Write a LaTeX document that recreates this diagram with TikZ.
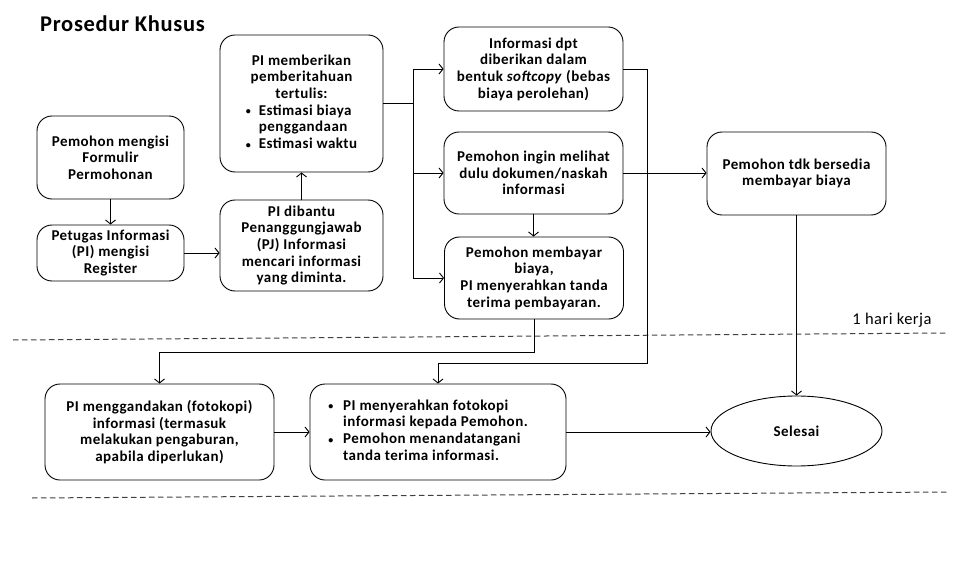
\documentclass[tikz,border=0pt]{standalone}
\usepackage{fontspec}
\setmainfont{Carlito}[LetterSpace=3]
\usetikzlibrary{arrows.meta,shapes.geometric}
\newcommand{\bul}{\raisebox{0.5bp}{\fontsize{10bp}{10bp}\selectfont\textbullet}}
\tikzset{
  box/.style={draw=black, line width=0.9bp, rounded corners=15bp, align=center, inner sep=2bp,
    font=\fontsize{15bp}{16.7bp}\selectfont\bfseries},
  endshape/.style={draw=black, line width=0.9bp, ellipse, inner sep=0bp,
    font=\fontsize{15bp}{16.7bp}\selectfont\bfseries},
  arr/.style={line width=0.9bp, -{Straight Barb[length=4bp,width=10bp,line width=0.9bp]}},
  ln/.style={line width=0.9bp},
  sep/.style={line width=1bp, draw=black!75, dash pattern=on 5.5bp off 3.5bp},
}
\begin{document}
\begin{tikzpicture}[x=1bp,y=-1bp]
\useasboundingbox (0,0) rectangle (963,564);
\node[font=\fontsize{22.5bp}{26bp}\selectfont\bfseries] (title) at (122.5,24) {Prosedur Khusus};

\node[box, minimum width=147bp, minimum height=83bp] (A) at (110.5,157.5) {Pemohon mengisi\\Formulir\\Permohonan};
\node[box, minimum width=147bp, minimum height=56bp] (B) at (110.5,253) {Petugas Informasi\\(PI) mengisi\\Register};
\node[box, minimum width=163bp, minimum height=91bp] (C) at (301.5,245.5) {PI dibantu\\Penanggungjawab\\(PJ) Informasi\\mencari informasi\\yang diminta.};
\node[box, minimum width=163bp, minimum height=137bp] (D) at (301.5,103.5) {\begin{tabular}{@{}l@{\hspace{8bp}}l@{}}
\multicolumn{2}{@{}c@{}}{PI memberikan}\\
\multicolumn{2}{@{}c@{}}{pemberitahuan}\\
\multicolumn{2}{@{}c@{}}{tertulis:}\\
\bul & Estimasi biaya\\
 & penggandaan\\
\bul & Estimasi waktu
\end{tabular}};
\node[box, minimum width=179bp, minimum height=84bp] (E) at (533.5,69) {Informasi dpt\\diberikan dalam\\bentuk \textit{softcopy} (bebas\\biaya perolehan)};
\node[box, minimum width=179bp, minimum height=82bp] (F) at (533.5,173) {Pemohon ingin melihat\\dulu dokumen/naskah\\informasi};
\node[box, minimum width=179bp, minimum height=82bp] (G) at (534,278) {Pemohon membayar\\biaya,\\PI menyerahkan tanda\\terima pembayaran.};
\node[box, minimum width=179bp, minimum height=83bp] (J) at (796.5,173.5) {Pemohon tdk bersedia\\membayar biaya};
\node[box, minimum width=229bp, minimum height=96bp] (H) at (159.5,432) {PI menggandakan (fotokopi)\\informasi (termasuk\\melakukan pengaburan,\\apabila diperlukan)};
\node[box, minimum width=256bp, minimum height=96bp] (I) at (438,432) {\begin{tabular}{@{}l@{\hspace{10bp}}l@{}}
\bul & PI menyerahkan fotokopi\\
 & informasi kepada Pemohon.\\
\bul & Pemohon menandatangani\\
 & tanda terima informasi.
\end{tabular}\hspace*{20bp}};
\node[endshape, minimum width=171bp, minimum height=70bp] (S) at (796.5,431) {Selesai};

\node[font=\fontsize{16.5bp}{19bp}\selectfont] (hari) at (892,320) {1 hari kerja};

% separators
\coordinate (s1a) at (13,340);
\coordinate (s1b) at (946,333);
\coordinate (s2a) at (32,498);
\coordinate (s2b) at (947,492);
\draw[sep] (s1a) -- (s1b);
\draw[sep] (s2a) -- (s2b);

% connectors
\draw[arr] (A.south) -- (B.north);
\draw[arr] (B.east) -- (B.east -| C.west);
\draw[arr] (C.north) -- (D.south);
\coordinate (jx) at (413,103.5);
\draw[ln] (D.east) -- (jx);
\draw[arr] (jx) |- (E.west);
\draw[arr] (jx) |- (G.west);
\draw[arr] (jx |- F.west) -- (F.west);
\draw[arr] (F.south) -- (F.south |- G.north);
\draw[arr] (F.east) -- (F.east -| J.west);
\coordinate (e1) at (647,363);
\draw[arr] (E.east) -| (e1) -| (I.north);
\coordinate (g1) at (534,352);
\draw[arr] (G.south) -- (g1) -| (H.north);
\draw[arr] (J.south) -- (J.south |- S.north);
\draw[arr] (H.east) -- (H.east -| I.west);
\draw[arr] (I.east) -- (I.east -| S.west);
\end{tikzpicture}
\end{document}
